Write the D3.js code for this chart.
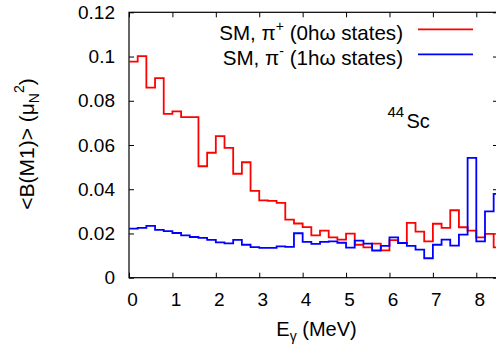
<!DOCTYPE html>
<html>
<head>
<meta charset="utf-8">
<script src="https://cdn.jsdelivr.net/npm/d3@7"></script>
<style>
  body { margin: 0; background: #fff; }
  svg { display: block; font-family: "Liberation Sans", Arial, sans-serif; }
</style>
</head>
<body>
<svg id="chart" width="496" height="348"></svg>
<script>
// lower edge of each 0.2 MeV bin
const binLow = [0, 0.2, 0.4, 0.6, 0.8, 1.0, 1.2, 1.4, 1.6, 1.8,
  2.0, 2.2, 2.4, 2.6, 2.8, 3.0, 3.2, 3.4, 3.6, 3.8,
  4.0, 4.2, 4.4, 4.6, 4.8, 5.0, 5.2, 5.4, 5.6, 5.8,
  6.0, 6.2, 6.4, 6.6, 6.8, 7.0, 7.2, 7.4, 7.6, 7.8,
  8.0, 8.2, 8.4];
const binWidth = 0.2;

// SM, pi+ (0hw states)
const piPlus = [0.0977, 0.1002, 0.0859, 0.0902, 0.0741, 0.0752, 0.0726, 0.0726, 0.0504, 0.0565,
  0.0640, 0.0587, 0.0470, 0.0522, 0.0393, 0.0350, 0.0347, 0.0338, 0.0263, 0.0245,
  0.0229, 0.0191, 0.0213, 0.0182, 0.0172, 0.0199, 0.0149, 0.0137, 0.0154, 0.0124,
  0.0170, 0.0157, 0.0248, 0.0208, 0.0164, 0.0244, 0.0225, 0.0305, 0.0228, 0.0213,
  0.0182, 0.0198, 0.0137];

// SM, pi- (1hw states)
const piMinus = [0.0222, 0.0225, 0.0234, 0.0216, 0.0211, 0.0202, 0.0191, 0.0184, 0.0180, 0.0171,
  0.0160, 0.0155, 0.0171, 0.0149, 0.0138, 0.0135, 0.0135, 0.0142, 0.0139, 0.0201,
  0.0162, 0.0153, 0.0162, 0.0164, 0.0158, 0.0136, 0.0168, 0.0154, 0.0123, 0.0144,
  0.0182, 0.0157, 0.0144, 0.0127, 0.0088, 0.0149, 0.0172, 0.0145, 0.0195, 0.0542,
  0.0164, 0.0300, 0.0379];

const xTicks = [0, 1, 2, 3, 4, 5, 6, 7, 8];
const yTicks = [0, 0.02, 0.04, 0.06, 0.08, 0.1, 0.12];

const svg = d3.select('#chart');
const tickFont = 19;

const x = d3.scaleLinear().domain([0, 8.5]).range([129, 498]);
const y = d3.scaleLinear().domain([0, 0.12]).range([277.7, 12.3]);

const plotLeft = x(0), plotRight = x(8.5), plotTop = y(0.12), plotBottom = y(0);

svg.append('defs').append('clipPath').attr('id', 'plotClip')
  .append('rect')
  .attr('x', plotLeft).attr('y', plotTop)
  .attr('width', plotRight - plotLeft).attr('height', plotBottom - plotTop);

// axes (ticks point inward, gnuplot style)
const fmtY = (d) => String(+d.toFixed(2));

const xAxis = svg.append('g')
  .attr('transform', `translate(0,${plotBottom})`)
  .call(d3.axisBottom(x).tickValues(xTicks).tickSizeInner(-5).tickSizeOuter(0).tickPadding(15));
xAxis.selectAll('text').attr('dx', 3);

const yAxis = svg.append('g')
  .attr('transform', `translate(${plotLeft},0)`)
  .call(d3.axisLeft(y).tickValues(yTicks).tickFormat(fmtY).tickSizeInner(-5).tickSizeOuter(0).tickPadding(14));

const xTop = svg.append('g')
  .attr('transform', `translate(0,${plotTop})`)
  .call(d3.axisTop(x).tickValues(xTicks).tickSizeInner(-5).tickSizeOuter(0).tickFormat(''));

const yRight = svg.append('g')
  .attr('transform', `translate(${plotRight},0)`)
  .call(d3.axisRight(y).tickValues(yTicks).tickSizeInner(-5).tickSizeOuter(0).tickFormat(''));

[xAxis, yAxis, xTop, yRight].forEach((g) => {
  g.select('.domain').remove();
  g.selectAll('line').attr('stroke', '#000').attr('stroke-width', 1);
  g.selectAll('text')
    .attr('fill', '#000')
    .style('font-size', tickFont + 'px')
    .style('font-family', '"Liberation Sans", Arial, sans-serif');
});

// frame
svg.append('rect')
  .attr('x', plotLeft).attr('y', plotTop)
  .attr('width', plotRight - plotLeft).attr('height', plotBottom - plotTop)
  .attr('fill', 'none')
  .attr('stroke', '#000')
  .attr('stroke-width', 1.2);

// step curves
const stepPoints = (vals) => {
  const pts = vals.map((v, i) => [binLow[i], v]);
  pts.push([binLow[binLow.length - 1] + binWidth, vals[vals.length - 1]]);
  return pts;
};

const line = d3.line()
  .x((d) => x(d[0]))
  .y((d) => y(d[1]))
  .curve(d3.curveStepAfter);

const plot = svg.append('g').attr('clip-path', 'url(#plotClip)');

plot.append('path')
  .datum(stepPoints(piPlus))
  .attr('d', line)
  .attr('fill', 'none')
  .attr('stroke', '#ff0000')
  .attr('stroke-width', 1.8);

plot.append('path')
  .datum(stepPoints(piMinus))
  .attr('d', line)
  .attr('fill', 'none')
  .attr('stroke', '#0000ff')
  .attr('stroke-width', 1.8);

// legend
const legend = [
  { sign: '+', states: '0hω states)', color: '#ff0000', cy: 29.3 },
  { sign: '-', states: '1hω states)', color: '#0000ff', cy: 54.3 },
];

legend.forEach((d) => {
  const t = svg.append('text')
    .attr('x', 403)
    .attr('y', d.cy + 10.5)
    .attr('text-anchor', 'end')
    .style('font-size', '20.6px')
    .attr('fill', '#000');
  t.append('tspan').text('SM, π');
  t.append('tspan').attr('dy', -9).style('font-size', '14px').text(d.sign);
  t.append('tspan').attr('dy', 9).text(' (' + d.states);

  svg.append('line')
    .attr('x1', 418).attr('x2', 473)
    .attr('y1', d.cy).attr('y2', d.cy)
    .attr('stroke', d.color)
    .attr('stroke-width', 1.8);
});

// nucleus label
svg.append('text')
  .attr('x', 387.5)
  .attr('y', 116.7)
  .style('font-size', '15px')
  .attr('fill', '#000')
  .text('44');
svg.append('text')
  .attr('x', 406.5)
  .attr('y', 128.3)
  .style('font-size', '20px')
  .attr('fill', '#000')
  .text('Sc');

// x label
const xl = svg.append('text')
  .attr('x', 316.5)
  .attr('y', 335.5)
  .attr('text-anchor', 'middle')
  .style('font-size', '20px')
  .attr('fill', '#000');
xl.append('tspan').text('E');
xl.append('tspan').attr('dy', 5).style('font-size', '14px').text('γ');
xl.append('tspan').attr('dy', -5).text(' (MeV)');

// y label
const yl = svg.append('text')
  .attr('transform', 'translate(33.5,144) rotate(-90)')
  .attr('text-anchor', 'middle')
  .style('font-size', '21px')
  .attr('fill', '#000');
yl.append('tspan').text('<B(M1)> (μ');
yl.append('tspan').attr('dy', 5).style('font-size', '14px').text('N');
yl.append('tspan').attr('dy', -15).style('font-size', '14px').text('2');
yl.append('tspan').attr('dy', 10).text(')');
</script>
</body>
</html>
